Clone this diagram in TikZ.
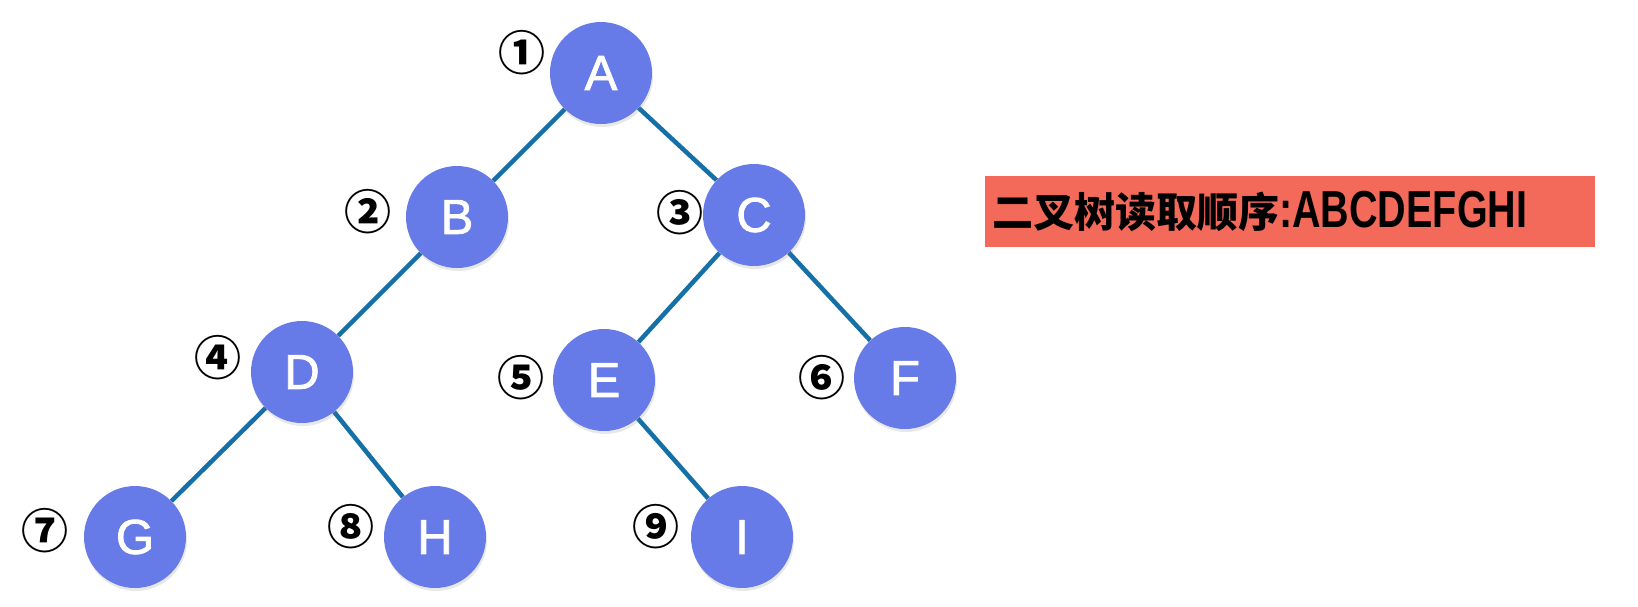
\documentclass[tikz,border=0pt]{standalone}
\usepackage{fontspec}
\usepackage{graphicx}
\setmainfont{Liberation Sans}
\newfontfamily\arialfont{Liberation Sans}
\newfontfamily\letterfont[FakeBold=1.6]{Liberation Sans}
\newfontfamily\cjk{Noto Sans CJK SC}
\usetikzlibrary{shadows,backgrounds}
\definecolor{nodefill}{RGB}{103,123,232}
\definecolor{edgeblue}{RGB}{22,112,168}
\definecolor{boxred}{RGB}{244,106,90}
\tikzset{
  tnode/.style={circle, fill=nodefill, minimum size=102pt, inner sep=0pt,
    text=white, font=\letterfont\fontsize{49}{49}\selectfont,
    drop shadow={shadow xshift=1pt, shadow yshift=-3pt, opacity=0.18}},
  num/.style={inner sep=0pt, font=\cjk\bfseries\fontsize{47}{47}\selectfont},
  edge/.style={draw=edgeblue, line width=4.5pt}
}
\begin{document}
\begin{tikzpicture}[x=1pt,y=-1pt]
\useasboundingbox (0,0) rectangle (1638,606);
\node[tnode] (A) at (601,73) {A};
\node[tnode] (B) at (457,217) {B};
\node[tnode] (C) at (754,215) {C};
\node[tnode] (D) at (302,372) {D};
\node[tnode] (E) at (604,380) {E};
\node[tnode] (F) at (905,378) {F};
\node[tnode] (G) at (135,537) {G};
\node[tnode] (H) at (435,537) {H};
\node[tnode] (I) at (742,537) {I};
\begin{scope}[on background layer]
\fill[white] (0,0) rectangle (1638,606);
\draw[edge] (A) -- (B);
\draw[edge] (A) -- (C);
\draw[edge] (B) -- (D);
\draw[edge] (C) -- (E);
\draw[edge] (C) -- (F);
\draw[edge] (D) -- (G);
\draw[edge] (D) -- (H);
\draw[edge] (E) -- (I);
\end{scope}
\node[num] (n1) at (522,53) {①};
\node[num] (n2) at (368,212) {②};
\node[num] (n3) at (680,213) {③};
\node[num] (n4) at (218,358) {④};
\node[num] (n5) at (521,378) {⑤};
\node[num] (n6) at (822,378) {⑥};
\node[num] (n7) at (45,531) {⑦};
\node[num] (n8) at (351,527) {⑧};
\node[num] (n9) at (656,527) {⑨};
\fill[boxred] (985,176) rectangle (1595,247);
\node[anchor=west, inner sep=0pt] (order) at (992,211)
  {{\cjk\bfseries\fontsize{41}{41}\selectfont 二叉树读取顺序}{\arialfont\bfseries\fontsize{52}{52}\selectfont\scalebox{0.76}[1]{:ABCDEFGHI}}};
\end{tikzpicture}
\end{document}
